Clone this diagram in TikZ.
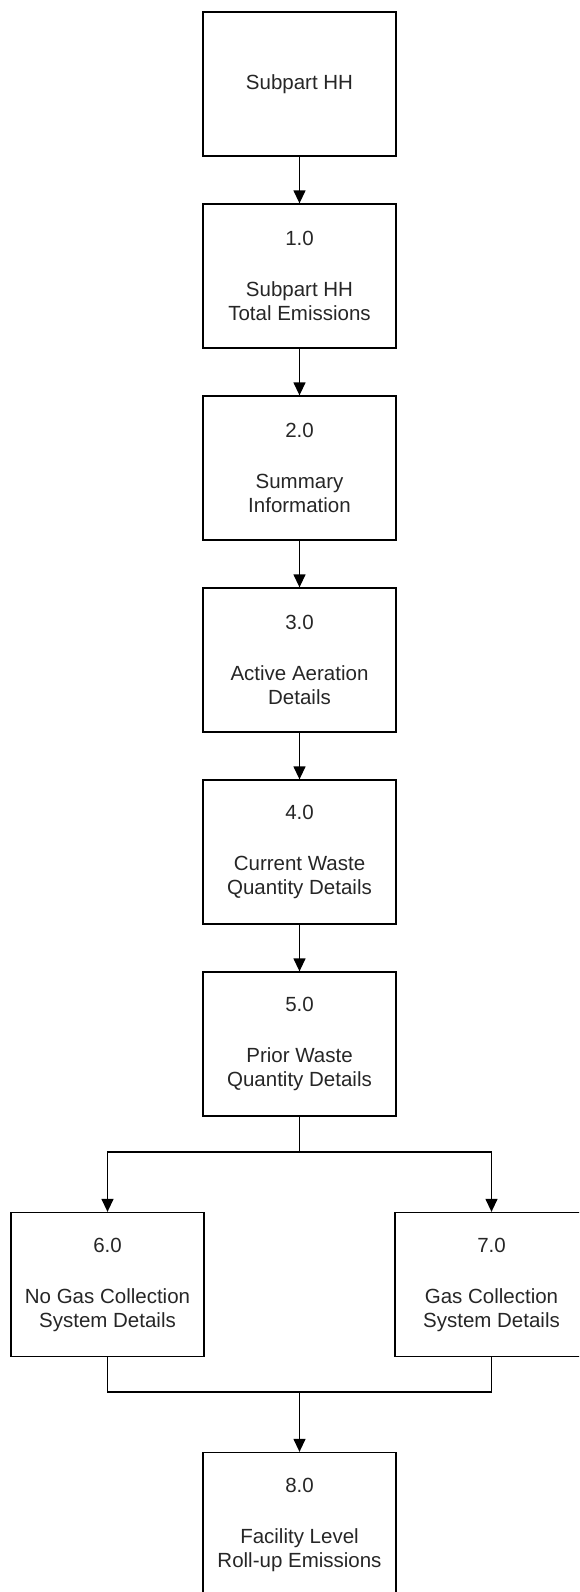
\documentclass[tikz,border=0pt]{standalone}
\usepackage{fontspec}
\setmainfont{Liberation Sans}
\usetikzlibrary{arrows.meta}

\begin{document}
\begin{tikzpicture}[
x=1pt, y=-1pt,
>={Triangle[length=13pt,width=12pt]},
line width=1.3pt,
every node/.style={font=\fontsize{20.5}{24}\selectfont, text=black!85},
box/.style={draw, align=center, minimum width=193pt, minimum height=144pt, inner sep=0pt},
]
\useasboundingbox (0,0) rectangle (579,1592);
\clip (0,0) rectangle (579,1592);

%% main column
% nodes
\node[box] (hh) at (299.5,84) {Subpart HH};
\node[box] (tot) at (299.5,276) {1.0\\[27pt]Subpart HH\\Total Emissions};
\node[box] (summ) at (299.5,468) {2.0\\[27pt]Summary\\Information};
\node[box] (aer) at (299.5,660) {3.0\\[27pt]Active Aeration\\Details};
\node[box] (cur) at (299.5,852) {4.0\\[27pt]Current Waste\\Quantity Details};
\node[box] (prior) at (299.5,1044) {5.0\\[27pt]Prior Waste\\Quantity Details};
% arrows
\draw[->] (hh) -- (tot);
\draw[->] (tot) -- (summ);
\draw[->] (summ) -- (aer);
\draw[->] (aer) -- (cur);
\draw[->] (cur) -- (prior);

%% gas collection branches
% nodes
\node[box] (nogas) at (107.5,1284.5) {6.0\\[27pt]No Gas Collection\\System Details};
\node[box] (gas) at (491.5,1284.5) {7.0\\[27pt]Gas Collection\\System Details};
\node[box] (fac) at (299.5,1524.5) {8.0\\[27pt]Facility Level\\Roll-up Emissions};
\coordinate (split) at (299.5,1152);
\coordinate (join) at (299.5,1392);
% arrows
\draw (prior) -- (split);
\draw[->] (split) -| (nogas);
\draw[->] (split) -| (gas);
\draw (nogas) |- (join);
\draw (gas) |- (join);
\draw[->] (join) -- (fac);
\end{tikzpicture}
\end{document}
